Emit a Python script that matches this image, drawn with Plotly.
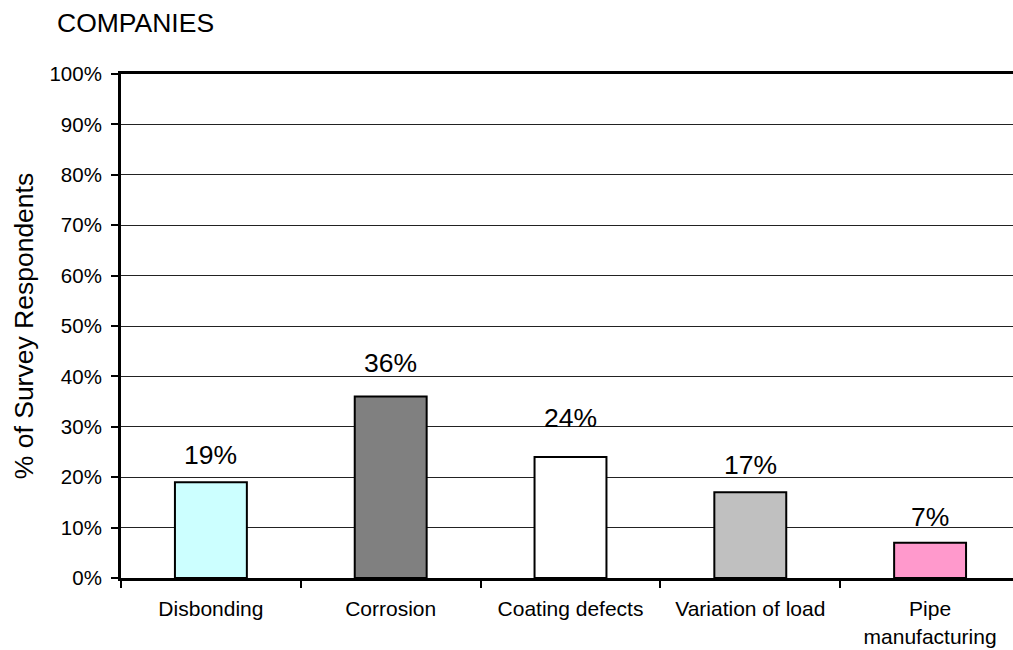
import plotly.graph_objects as go

# Survey results: failure causes reported by companies
categories = ["Disbonding", "Corrosion", "Coating defects", "Variation of load", "Pipe<br>manufacturing"]
percent_values = [19, 36, 24, 17, 7]
bar_colors = ["#CCFFFF", "#808080", "#FFFFFF", "#C0C0C0", "#FF99CC"]
y_tick_values = [0, 10, 20, 30, 40, 50, 60, 70, 80, 90, 100]
y_tick_labels = [f"{v}%" for v in y_tick_values]

# vertical gap (px) between each bar top and the centre of its value label
label_gap_px = [27, 34, 39, 27, 26]

FONT = "Liberation Sans, Arial, sans-serif"

fig = go.Figure()
fig.add_trace(go.Bar(
    x=categories,
    y=percent_values,
    width=0.4,
    marker=dict(color=bar_colors, line=dict(color="black", width=2)),
    hoverinfo="x+y",
    showlegend=False,
))

for cat, val, gap in zip(categories, percent_values, label_gap_px):
    fig.add_annotation(
        x=cat, y=val, xref="x", yref="y",
        text=f"{val}%", showarrow=False,
        yanchor="middle", yshift=gap,
        font=dict(family=FONT, size=26.5, color="black"),
    )

fig.update_layout(
    width=1013, height=650,
    margin=dict(l=121, r=0, t=74, b=72, autoexpand=False),
    paper_bgcolor="white", plot_bgcolor="white",
    font=dict(family=FONT, color="black"),
    title=dict(
        text="COMPANIES",
        font=dict(family=FONT, size=26.5, color="black"),
        xref="container", yref="container",
        x=57 / 1013, xanchor="left",
        y=1 - 23 / 650, yanchor="middle",
    ),
    bargap=0.6,
)

fig.update_xaxes(
    type="category",
    range=[-0.5, 4.5 - 7 / 180],
    tickson="boundaries",
    ticks="outside", ticklen=7, tickwidth=2, tickcolor="black",
    showline=True, linecolor="black", linewidth=3, mirror=True,
    showgrid=False,
    tickfont=dict(family=FONT, size=21, color="black"),
    ticklabelstandoff=10,
    automargin=False,
)

fig.update_yaxes(
    range=[0, 100],
    tickvals=y_tick_values, ticktext=y_tick_labels,
    ticks="outside", ticklen=7, tickwidth=2, tickcolor="black",
    showline=True, linecolor="black", linewidth=3,
    showgrid=True, gridcolor="#222222", gridwidth=1,
    zeroline=False,
    tickfont=dict(family=FONT, size=20.5, color="black"),
    ticklabelstandoff=5,
    title=dict(text="% of Survey Respondents", standoff=9,
               font=dict(family=FONT, size=26.5, color="black")),
    automargin=False,
)

fig.write_html("out.html")
